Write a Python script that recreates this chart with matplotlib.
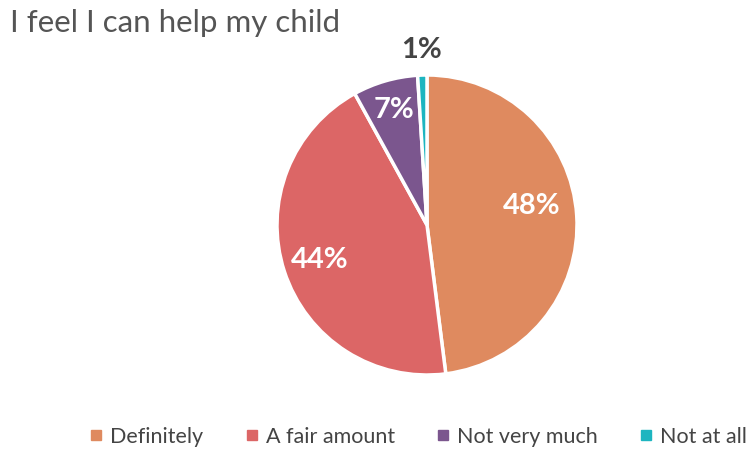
import numpy as np
import matplotlib.pyplot as plt
from matplotlib.lines import Line2D

categories = ['Definitely', 'A fair amount', 'Not very much', 'Not at all']
values = [48, 44, 7, 1]
colors = ['#DF8A5F', '#DC6666', '#7B568E', '#1DB5C0']
label_r = [0.70, 0.75, 0.80, 1.17]
label_col = ['white', 'white', 'white', '#444444']

plt.rcParams['font.family'] = ['Lato', 'DejaVu Sans']

fig = plt.figure(figsize=(7.53, 4.53), dpi=100)
ax = fig.add_axes([277/753, 1 - 375/453, 300/753, 300/453])

wedges, _ = ax.pie(values, colors=colors, startangle=90, counterclock=False,
                   wedgeprops=dict(edgecolor='white', linewidth=2.5))
ax.set_xlim(-1, 1)
ax.set_ylim(-1, 1)
ax.set_aspect('equal')

for w, v, r, c in zip(wedges, values, label_r, label_col):
    ang = np.deg2rad((w.theta1 + w.theta2) / 2)
    x, y = r * np.cos(ang), r * np.sin(ang)
    if v == 48:
        y += 0.08
    ax.text(x, y, f'{v}%', ha='center', va='center', color=c,
            fontsize=21, fontweight='bold', clip_on=False)

fig.text(10/753, 1 - 23/453, 'I feel I can help my child', fontsize=22.5,
         color='#555555', ha='left', va='center')

handles = [Line2D([], [], marker='s', linestyle='none', markersize=7,
                  markerfacecolor=c, markeredgecolor=c) for c in colors]
fig.legend(handles, categories, loc='center', bbox_to_anchor=(419/753, 1 - 437/453),
           ncol=4, frameon=False, fontsize=15.5, handlelength=0.5, handletextpad=0.4,
           columnspacing=2.0, labelcolor='#444444')

fig.savefig('out.png', dpi=100)
